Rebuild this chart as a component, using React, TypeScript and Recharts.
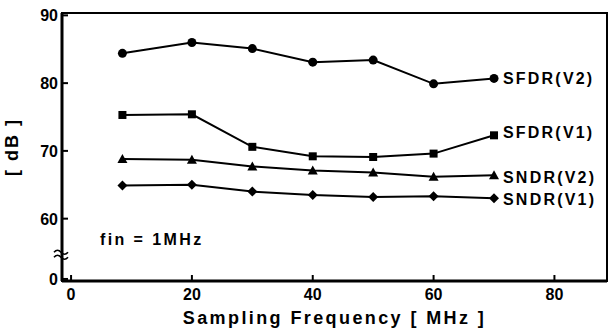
import { LineChart, Line, XAxis, YAxis, ReferenceArea, LabelList } from "recharts"

const FREQ = [8.5, 20, 30, 40, 50, 60, 70]
const SFDR_V2 = [84.4, 86.0, 85.1, 83.1, 83.4, 79.9, 80.7]
const SFDR_V1 = [75.3, 75.4, 70.6, 69.2, 69.1, 69.6, 72.3]
const SNDR_V2 = [68.8, 68.7, 67.7, 67.1, 66.8, 66.2, 66.4]
const SNDR_V1 = [64.9, 65.0, 64.0, 63.5, 63.2, 63.3, 63.0]

const X_TICKS = [0, 20, 40, 60, 80]
// broken axis: "0" sits just under the 60 tick
const ZERO_AT = 51.1
const BREAK_AT = 54.9
const Y_TICKS = [ZERO_AT, BREAK_AT, 60, 70, 80, 90]

const X_DOMAIN = [-1.5, 88.7]
const Y_DOMAIN = [50.8, 90.35]

const FONT = '"Liberation Sans", Arial, sans-serif'

const rows = FREQ.map((f, i) => ({
  f,
  sfdr2: SFDR_V2[i],
  sfdr1: SFDR_V1[i],
  sndr2: SNDR_V2[i],
  sndr1: SNDR_V1[i],
}))

const SERIES = [
  { key: "sfdr2", name: "SFDR(V2)", shape: "circle", dy: 0 },
  { key: "sfdr1", name: "SFDR(V1)", shape: "square", dy: -3 },
  { key: "sndr2", name: "SNDR(V2)", shape: "triangle", dy: 2 },
  { key: "sndr1", name: "SNDR(V1)", shape: "diamond", dy: 1 },
]

function Marker({ cx, cy, shape }: { cx: number; cy: number; shape: string }) {
  if (cx == null || cy == null) return null
  if (shape === "circle") return <circle cx={cx} cy={cy} r={4.5} fill="#000" />
  if (shape === "square") return <rect x={cx - 4} y={cy - 4} width={8} height={8} fill="#000" />
  if (shape === "triangle")
    return <polygon points={`${cx},${cy - 5} ${cx + 5},${cy + 4} ${cx - 5},${cy + 4}`} fill="#000" />
  return <polygon points={`${cx},${cy - 5} ${cx + 5},${cy} ${cx},${cy + 5} ${cx - 5},${cy}`} fill="#000" />
}

function XTick({ x, y, payload }: any) {
  return (
    <g>
      <line x1={x} y1={y} x2={x} y2={y - 6} stroke="#000" strokeWidth={2} />
      <text x={x} y={y + 19} textAnchor="middle" fontFamily={FONT} fontWeight="bold" fontSize={16} fill="#000">
        {payload.value}
      </text>
    </g>
  )
}

function YTick({ x, y, payload }: any) {
  if (payload.value === BREAK_AT) {
    return (
      <g fill="none" stroke="#000" strokeWidth={1.6}>
        <path d={`M${x - 8},${y - 1} q3.5,-4 7,0 t7,0`} />
        <path d={`M${x - 8},${y + 4} q3.5,-4 7,0 t7,0`} />
      </g>
    )
  }
  const label = payload.value === ZERO_AT ? "0" : payload.value
  return (
    <g>
      <line x1={x} y1={y} x2={x + 6} y2={y} stroke="#000" strokeWidth={2} />
      <text x={x - 4} y={y + 6} textAnchor="end" fontFamily={FONT} fontWeight="bold" fontSize={16} fill="#000">
        {label}
      </text>
    </g>
  )
}

function seriesLabel(name: string, dy: number) {
  return (p: any) => {
    if (p.index !== FREQ.length - 1) return null
    return (
      <text
        key={name}
        x={p.x + 9}
        y={p.y + 6 + dy}
        fontFamily={FONT}
        fontWeight="bold"
        fontSize={16}
        letterSpacing={2.2}
        fill="#000"
      >
        {name}
      </text>
    )
  }
}

export default function App() {
  return (
    <div style={{ position: "fixed", left: 0, top: 0, width: 614, height: 333, background: "#fff" }}>
      <LineChart width={614} height={333} data={rows} margin={{ top: 13, right: 7, bottom: 0, left: 0 }}>
        <XAxis
          dataKey="f"
          type="number"
          domain={X_DOMAIN}
          ticks={X_TICKS}
          allowDataOverflow
          height={52}
          tickSize={0}
          tickMargin={0}
          tickLine={false}
          tick={<XTick />}
          axisLine={{ stroke: "#000", strokeWidth: 3 }}
          label={{
            value: "Sampling Frequency [ MHz ]",
            position: "insideBottom",
            offset: 9,
            style: { fontFamily: FONT, fontWeight: "bold", fontSize: 18, letterSpacing: 2.4, fill: "#000" },
          }}
        />
        <YAxis
          type="number"
          domain={Y_DOMAIN}
          ticks={Y_TICKS}
          allowDataOverflow
          width={62}
          tickSize={0}
          tickMargin={0}
          tickLine={false}
          tick={<YTick />}
          interval={0}
          axisLine={{ stroke: "#000", strokeWidth: 3 }}
          label={{
            content: (p: any) => (
              <text
                x={18}
                y={p.viewBox.y + p.viewBox.height / 2}
                transform={`rotate(-90 18 ${p.viewBox.y + p.viewBox.height / 2})`}
                textAnchor="middle"
                fontFamily={FONT}
                fontWeight="bold"
                fontSize={18}
                letterSpacing={2}
                fill="#000"
              >
                [ dB ]
              </text>
            ),
          }}
        />
        <ReferenceArea
          x1={X_DOMAIN[0]}
          x2={X_DOMAIN[1]}
          y1={Y_DOMAIN[0]}
          y2={Y_DOMAIN[1]}
          fill="none"
          stroke="#000"
          strokeWidth={2}
          ifOverflow="visible"
        />
        {SERIES.map((s) => (
          <Line
            key={s.key}
            dataKey={s.key}
            stroke="#000"
            strokeWidth={2}
            isAnimationActive={false}
            dot={(p: any) => <Marker key={`${s.key}-${p.index}`} cx={p.cx} cy={p.cy} shape={s.shape} />}
          >
            <LabelList dataKey={s.key} content={seriesLabel(s.name, s.dy)} />
          </Line>
        ))}
      </LineChart>
      <div
        style={{
          position: "absolute",
          left: 100,
          top: 231,
          fontFamily: FONT,
          fontWeight: "bold",
          fontSize: 16,
          letterSpacing: 2.4,
          color: "#000",
          whiteSpace: "nowrap",
        }}
      >
        fin = 1MHz
      </div>
    </div>
  )
}
